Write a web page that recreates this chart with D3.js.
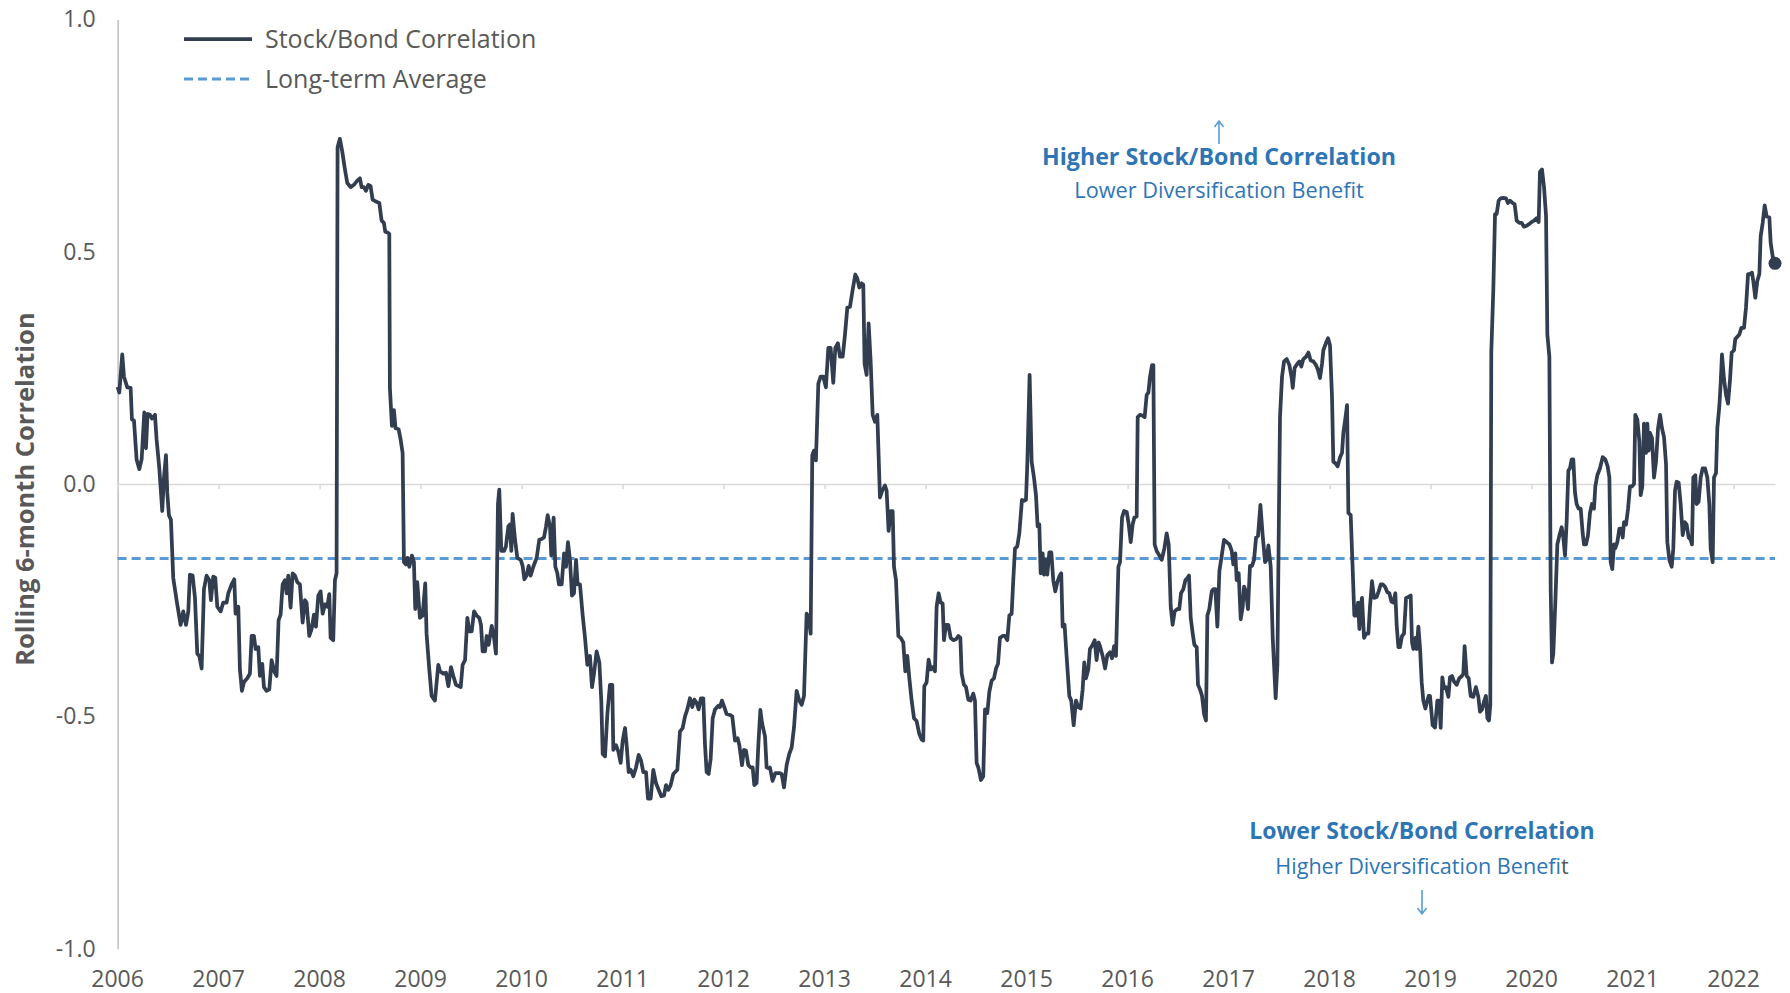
<!DOCTYPE html>
<html>
<head>
<meta charset="utf-8">
<script src="https://cdn.jsdelivr.net/npm/d3@7"></script>
<style>
  body { margin: 0; background: #fff; }
  svg text { font-family: "Open Sans", sans-serif; }
</style>
</head>
<body>
<div id="chart"></div>
<script>
// rolling 6-month stock/bond correlation, [decimal year, value]
const corr2006_09 = [
  [2006.000,0.209],[2006.017,0.197],[2006.046,0.279],[2006.063,0.231],[2006.096,0.208],[2006.129,0.207],
  [2006.142,0.139],[2006.162,0.137],[2006.188,0.053],[2006.215,0.032],[2006.238,0.053],[2006.264,0.154],
  [2006.281,0.077],[2006.297,0.151],[2006.320,0.149],[2006.340,0.141],[2006.370,0.149],[2006.386,0.096],
  [2006.413,0.034],[2006.442,-0.058],[2006.459,0.014],[2006.479,0.062],[2006.492,-0.019],[2006.508,-0.067],
  [2006.528,-0.077],[2006.551,-0.202],[2006.584,-0.250],[2006.624,-0.303],[2006.650,-0.274],[2006.677,-0.303],
  [2006.700,-0.274],[2006.716,-0.195],[2006.743,-0.197],[2006.766,-0.245],[2006.789,-0.365],[2006.809,-0.370],
  [2006.832,-0.397],[2006.855,-0.226],[2006.881,-0.197],[2006.908,-0.207],[2006.924,-0.250],[2006.947,-0.199],
  [2006.967,-0.202],[2006.987,-0.264],[2007.020,-0.274],[2007.046,-0.255],[2007.079,-0.255],[2007.096,-0.235],
  [2007.129,-0.216],[2007.155,-0.205],[2007.168,-0.279],[2007.195,-0.264],[2007.211,-0.399],[2007.231,-0.445],
  [2007.251,-0.426],[2007.284,-0.418],[2007.310,-0.408],[2007.327,-0.327],[2007.350,-0.327],[2007.366,-0.355],
  [2007.393,-0.351],[2007.409,-0.413],[2007.432,-0.387],[2007.449,-0.437],[2007.475,-0.445],[2007.502,-0.442],
  [2007.525,-0.379],[2007.551,-0.403],[2007.574,-0.413],[2007.594,-0.293],[2007.614,-0.281],[2007.634,-0.216],
  [2007.657,-0.207],[2007.673,-0.235],[2007.690,-0.197],[2007.713,-0.266],[2007.733,-0.192],[2007.756,-0.197],
  [2007.779,-0.211],[2007.805,-0.216],[2007.832,-0.298],[2007.855,-0.250],[2007.871,-0.255],[2007.898,-0.327],
  [2007.921,-0.312],[2007.944,-0.281],[2007.964,-0.307],[2007.987,-0.240],[2008.010,-0.231],[2008.030,-0.279],
  [2008.053,-0.259],[2008.076,-0.264],[2008.096,-0.237],[2008.109,-0.331],[2008.135,-0.336],[2008.152,-0.207],
  [2008.168,-0.192],[2008.178,0.725],[2008.201,0.743],[2008.224,0.716],[2008.251,0.677],[2008.274,0.648],
  [2008.307,0.639],[2008.340,0.644],[2008.373,0.653],[2008.399,0.658],[2008.416,0.639],[2008.439,0.639],
  [2008.459,0.631],[2008.482,0.644],[2008.505,0.641],[2008.525,0.612],[2008.558,0.608],[2008.591,0.605],
  [2008.614,0.567],[2008.637,0.562],[2008.650,0.543],[2008.677,0.541],[2008.690,0.538],[2008.696,0.207],
  [2008.716,0.125],[2008.736,0.159],[2008.752,0.120],[2008.782,0.118],[2008.802,0.096],[2008.822,0.067],
  [2008.835,-0.168],[2008.855,-0.173],[2008.871,-0.159],[2008.888,-0.178],[2008.914,-0.154],[2008.934,-0.168],
  [2008.947,-0.269],[2008.967,-0.211],[2008.993,-0.288],[2009.020,-0.283],[2009.046,-0.214],[2009.059,-0.322],
  [2009.086,-0.399],[2009.109,-0.456],[2009.142,-0.466],[2009.175,-0.389]
];
const corr2009_12 = [
  [2009.192,-0.403],[2009.225,-0.408],[2009.251,-0.406],[2009.275,-0.435],[2009.301,-0.394],[2009.324,-0.413],
  [2009.350,-0.432],[2009.397,-0.437],[2009.416,-0.389],[2009.440,-0.379],[2009.463,-0.288],[2009.482,-0.317],
  [2009.506,-0.317],[2009.529,-0.274],[2009.555,-0.283],[2009.581,-0.288],[2009.598,-0.303],[2009.614,-0.360],
  [2009.638,-0.360],[2009.654,-0.327],[2009.674,-0.346],[2009.704,-0.305],[2009.727,-0.331],[2009.746,-0.365],
  [2009.766,-0.043],[2009.779,-0.012],[2009.799,-0.144],[2009.826,-0.144],[2009.845,-0.134],[2009.869,-0.091],
  [2009.885,-0.087],[2009.898,-0.144],[2009.911,-0.064],[2009.935,-0.120],[2009.958,-0.159],[2009.991,-0.163],
  [2010.010,-0.176],[2010.027,-0.205],[2010.050,-0.197],[2010.070,-0.176],[2010.090,-0.197],[2010.116,-0.178],
  [2010.149,-0.159],[2010.175,-0.120],[2010.199,-0.118],[2010.222,-0.115],[2010.242,-0.091],[2010.258,-0.067],
  [2010.281,-0.091],[2010.294,-0.154],[2010.317,-0.072],[2010.334,-0.178],[2010.354,-0.192],[2010.370,-0.216],
  [2010.397,-0.216],[2010.420,-0.149],[2010.440,-0.178],[2010.459,-0.125],[2010.479,-0.163],[2010.499,-0.240],
  [2010.519,-0.235],[2010.539,-0.163],[2010.555,-0.216],[2010.578,-0.216],[2010.605,-0.283],[2010.628,-0.331],
  [2010.651,-0.389],[2010.677,-0.370],[2010.697,-0.437],[2010.717,-0.408],[2010.743,-0.360],[2010.770,-0.384],
  [2010.789,-0.466],[2010.803,-0.581],[2010.826,-0.586],[2010.849,-0.495],[2010.875,-0.432],[2010.898,-0.432],
  [2010.908,-0.572],[2010.935,-0.562],[2010.958,-0.576],[2010.981,-0.600],[2011.001,-0.552],[2011.024,-0.525],
  [2011.040,-0.562],[2011.060,-0.620],[2011.080,-0.615],[2011.106,-0.629],[2011.133,-0.610],[2011.159,-0.583],
  [2011.182,-0.595],[2011.205,-0.620],[2011.232,-0.620],[2011.251,-0.677],[2011.278,-0.677],[2011.304,-0.615],
  [2011.331,-0.644],[2011.357,-0.658],[2011.383,-0.672],[2011.410,-0.670],[2011.430,-0.648],[2011.453,-0.658],
  [2011.476,-0.648],[2011.502,-0.624],[2011.542,-0.615],[2011.568,-0.533],[2011.595,-0.525],[2011.618,-0.500],
  [2011.641,-0.485],[2011.667,-0.461],[2011.690,-0.480],[2011.710,-0.464],[2011.733,-0.471],[2011.753,-0.485],
  [2011.776,-0.461],[2011.799,-0.461],[2011.816,-0.562],[2011.832,-0.620],[2011.852,-0.624],[2011.872,-0.591],
  [2011.892,-0.504],[2011.915,-0.485],[2011.948,-0.477],[2011.964,-0.480],[2011.984,-0.466],[2012.007,-0.480],
  [2012.030,-0.495],[2012.063,-0.497],[2012.086,-0.500],[2012.113,-0.552],[2012.139,-0.547],[2012.156,-0.562],
  [2012.182,-0.605],[2012.202,-0.572],[2012.222,-0.574],[2012.245,-0.605],[2012.268,-0.610],[2012.288,-0.610],
  [2012.304,-0.648],[2012.327,-0.643],[2012.344,-0.562],[2012.364,-0.486],[2012.380,-0.514],[2012.410,-0.543],
  [2012.426,-0.610],[2012.453,-0.612]
];
const corr2012_15 = [
  [2012.459,-0.610],[2012.485,-0.639],[2012.512,-0.622],[2012.551,-0.622],[2012.575,-0.624],[2012.598,-0.653],
  [2012.624,-0.605],[2012.650,-0.581],[2012.674,-0.567],[2012.697,-0.524],[2012.723,-0.445],[2012.749,-0.466],
  [2012.773,-0.475],[2012.796,-0.456],[2012.822,-0.279],[2012.842,-0.288],[2012.862,-0.322],[2012.878,0.062],
  [2012.895,0.072],[2012.914,0.051],[2012.938,0.216],[2012.961,0.231],[2012.987,0.231],[2013.013,0.208],
  [2013.037,0.293],[2013.060,0.293],[2013.086,0.218],[2013.106,0.293],[2013.132,0.303],[2013.152,0.274],
  [2013.179,0.274],[2013.202,0.322],[2013.225,0.380],[2013.251,0.381],[2013.278,0.418],[2013.304,0.451],
  [2013.324,0.442],[2013.344,0.423],[2013.367,0.432],[2013.383,0.429],[2013.396,0.259],[2013.416,0.235],
  [2013.436,0.346],[2013.456,0.264],[2013.476,0.149],[2013.499,0.134],[2013.522,0.149],[2013.548,-0.029],
  [2013.571,-0.014],[2013.598,-0.003],[2013.614,-0.014],[2013.634,-0.101],[2013.654,-0.058],[2013.674,-0.058],
  [2013.687,-0.178],[2013.707,-0.207],[2013.730,-0.327],[2013.753,-0.331],[2013.779,-0.341],[2013.799,-0.403],
  [2013.819,-0.370],[2013.839,-0.418],[2013.862,-0.466],[2013.885,-0.504],[2013.911,-0.510],[2013.938,-0.538],
  [2013.961,-0.550],[2013.977,-0.552],[2013.987,-0.435],[2014.010,-0.427],[2014.030,-0.378],[2014.050,-0.399],
  [2014.070,-0.394],[2014.093,-0.403],[2014.109,-0.264],[2014.129,-0.235],[2014.149,-0.255],[2014.169,-0.257],
  [2014.182,-0.336],[2014.202,-0.303],[2014.225,-0.303],[2014.248,-0.331],[2014.274,-0.336],[2014.301,-0.334],
  [2014.324,-0.327],[2014.344,-0.331],[2014.357,-0.408],[2014.380,-0.432],[2014.400,-0.437],[2014.423,-0.464],
  [2014.446,-0.466],[2014.472,-0.451],[2014.489,-0.466],[2014.505,-0.600],[2014.522,-0.610],[2014.548,-0.637],
  [2014.571,-0.629],[2014.588,-0.485],[2014.611,-0.493],[2014.631,-0.447],[2014.654,-0.423],[2014.677,-0.418],
  [2014.697,-0.397],[2014.717,-0.387],[2014.736,-0.331],[2014.763,-0.327],[2014.786,-0.327],[2014.809,-0.336],
  [2014.829,-0.283],[2014.852,-0.279],[2014.868,-0.207],[2014.885,-0.139],[2014.908,-0.134],[2014.928,-0.106],
  [2014.954,-0.034],[2014.974,-0.036],[2014.994,-0.034],[2015.007,0.043],[2015.030,0.235],[2015.050,0.048],
  [2015.073,0.014],[2015.093,-0.024],[2015.109,-0.091],[2015.126,-0.087],[2015.139,-0.192],[2015.159,-0.149],
  [2015.172,-0.195],[2015.192,-0.163],[2015.205,-0.195],[2015.225,-0.147],[2015.245,-0.147],[2015.264,-0.207],
  [2015.284,-0.231],[2015.304,-0.211],[2015.324,-0.199],[2015.343,-0.192],[2015.357,-0.307],[2015.376,-0.303],
  [2015.396,-0.370],[2015.423,-0.456],[2015.442,-0.466],[2015.466,-0.519],[2015.489,-0.466],[2015.512,-0.480],
  [2015.535,-0.483],[2015.555,-0.442],[2015.571,-0.384],[2015.588,-0.418],[2015.611,-0.399],[2015.627,-0.355],
  [2015.654,-0.346],[2015.674,-0.336],[2015.693,-0.379],[2015.713,-0.341]
];
const corr2015_19 = [
  [2015.727,-0.349],[2015.753,-0.370],[2015.777,-0.397],[2015.800,-0.368],[2015.826,-0.362],[2015.846,-0.375],
  [2015.866,-0.349],[2015.885,-0.370],[2015.909,-0.178],[2015.925,-0.168],[2015.945,-0.072],[2015.965,-0.058],
  [2015.991,-0.060],[2016.008,-0.082],[2016.031,-0.125],[2016.050,-0.087],[2016.067,-0.072],[2016.090,-0.070],
  [2016.100,0.144],[2016.123,0.149],[2016.149,0.147],[2016.169,0.144],[2016.189,0.192],[2016.206,0.197],
  [2016.222,0.231],[2016.242,0.256],[2016.255,0.256],[2016.268,-0.130],[2016.288,-0.144],[2016.315,-0.154],
  [2016.338,-0.163],[2016.364,-0.139],[2016.387,-0.106],[2016.407,-0.130],[2016.427,-0.264],[2016.446,-0.303],
  [2016.466,-0.274],[2016.493,-0.269],[2016.512,-0.269],[2016.529,-0.235],[2016.552,-0.226],[2016.572,-0.207],
  [2016.592,-0.202],[2016.608,-0.197],[2016.625,-0.288],[2016.645,-0.322],[2016.661,-0.346],[2016.684,-0.351],
  [2016.697,-0.432],[2016.717,-0.442],[2016.737,-0.456],[2016.757,-0.495],[2016.776,-0.509],[2016.790,-0.283],
  [2016.809,-0.269],[2016.833,-0.231],[2016.849,-0.226],[2016.869,-0.226],[2016.889,-0.307],[2016.909,-0.187],
  [2016.932,-0.154],[2016.955,-0.120],[2016.981,-0.125],[2017.008,-0.130],[2017.031,-0.144],[2017.047,-0.173],
  [2017.067,-0.149],[2017.080,-0.207],[2017.100,-0.192],[2017.120,-0.291],[2017.140,-0.264],[2017.153,-0.221],
  [2017.173,-0.231],[2017.192,-0.269],[2017.212,-0.176],[2017.232,-0.176],[2017.252,-0.163],[2017.272,-0.115],
  [2017.291,-0.112],[2017.315,-0.045],[2017.338,-0.112],[2017.361,-0.168],[2017.377,-0.163],[2017.394,-0.132],
  [2017.417,-0.178],[2017.437,-0.331],[2017.450,-0.389],[2017.466,-0.461],[2017.483,-0.389],[2017.499,-0.053],
  [2017.509,0.144],[2017.529,0.231],[2017.549,0.264],[2017.575,0.269],[2017.602,0.256],[2017.625,0.228],
  [2017.635,0.207],[2017.654,0.250],[2017.681,0.259],[2017.701,0.264],[2017.720,0.253],[2017.740,0.269],
  [2017.767,0.274],[2017.790,0.283],[2017.813,0.266],[2017.839,0.264],[2017.866,0.256],[2017.886,0.245],
  [2017.905,0.228],[2017.925,0.259],[2017.938,0.288],[2017.965,0.304],[2017.985,0.314],[2018.004,0.298],
  [2018.024,0.187],[2018.037,0.048],[2018.057,0.045],[2018.080,0.038],[2018.104,0.058],[2018.123,0.067],
  [2018.136,0.110],[2018.156,0.141],[2018.173,0.170],[2018.186,-0.062],[2018.209,-0.067],[2018.226,-0.168],
  [2018.245,-0.283],[2018.268,-0.283],[2018.282,-0.255],[2018.295,-0.312],[2018.308,-0.264],[2018.321,-0.245],
  [2018.341,-0.331],[2018.361,-0.322],[2018.384,-0.322],[2018.400,-0.264],[2018.420,-0.209],[2018.440,-0.245],
  [2018.466,-0.243],[2018.486,-0.231],[2018.506,-0.216],[2018.526,-0.216],[2018.549,-0.221],[2018.572,-0.233],
  [2018.592,-0.235],[2018.612,-0.253],[2018.631,-0.255],[2018.651,-0.235],[2018.664,-0.303],[2018.681,-0.351],
  [2018.697,-0.351],[2018.717,-0.327],[2018.737,-0.322],[2018.757,-0.245],[2018.780,-0.243],[2018.803,-0.240],
  [2018.816,-0.341],[2018.829,-0.355],[2018.849,-0.331],[2018.862,-0.355],[2018.879,-0.307],[2018.895,-0.351],
  [2018.912,-0.427],[2018.928,-0.466],[2018.948,-0.483],[2018.968,-0.466],[2018.981,-0.456]
];
const corr2019_22 = [
  [2018.994,-0.456],[2019.020,-0.519],[2019.044,-0.524],[2019.067,-0.466],[2019.086,-0.466],[2019.100,-0.525],
  [2019.116,-0.416],[2019.133,-0.439],[2019.152,-0.437],[2019.176,-0.458],[2019.192,-0.416],[2019.212,-0.413],
  [2019.232,-0.425],[2019.258,-0.432],[2019.284,-0.418],[2019.311,-0.413],[2019.324,-0.408],[2019.337,-0.349],
  [2019.357,-0.413],[2019.377,-0.418],[2019.397,-0.456],[2019.423,-0.458],[2019.449,-0.437],[2019.473,-0.458],
  [2019.489,-0.490],[2019.509,-0.485],[2019.532,-0.466],[2019.548,-0.456],[2019.562,-0.504],[2019.578,-0.509],
  [2019.591,-0.475],[2019.601,0.283],[2019.621,0.418],[2019.638,0.581],[2019.654,0.581],[2019.674,0.610],
  [2019.694,0.615],[2019.720,0.616],[2019.746,0.615],[2019.766,0.605],[2019.786,0.610],[2019.812,0.605],
  [2019.832,0.602],[2019.852,0.567],[2019.878,0.562],[2019.902,0.562],[2019.925,0.554],[2019.951,0.556],
  [2019.978,0.560],[2020.001,0.564],[2020.024,0.567],[2020.050,0.572],[2020.070,0.564],[2020.083,0.672],
  [2020.103,0.677],[2020.123,0.639],[2020.143,0.577],[2020.156,0.322],[2020.176,0.274],[2020.189,-0.226],
  [2020.202,-0.384],[2020.215,-0.365],[2020.235,-0.255],[2020.255,-0.130],[2020.275,-0.111],[2020.298,-0.093],
  [2020.314,-0.115],[2020.331,-0.154],[2020.347,-0.082],[2020.364,0.029],[2020.380,0.034],[2020.397,0.053],
  [2020.413,0.053],[2020.430,-0.019],[2020.446,-0.043],[2020.466,-0.053],[2020.486,-0.053],[2020.506,-0.106],
  [2020.519,-0.130],[2020.539,-0.130],[2020.558,-0.111],[2020.578,-0.062],[2020.598,-0.043],[2020.618,-0.053],
  [2020.631,-0.005],[2020.651,0.019],[2020.677,0.034],[2020.704,0.058],[2020.730,0.053],[2020.753,0.038],
  [2020.770,0.014],[2020.783,-0.168],[2020.799,-0.183],[2020.816,-0.130],[2020.829,-0.138],[2020.849,-0.125],
  [2020.869,-0.096],[2020.888,-0.096],[2020.902,-0.115],[2020.915,-0.082],[2020.935,-0.087],[2020.955,-0.053],
  [2020.974,-0.005],[2020.994,-0.005],[2021.014,0.000],[2021.027,0.149],[2021.047,0.139],[2021.067,0.091],
  [2021.080,-0.024],[2021.096,-0.005],[2021.113,0.130],[2021.133,0.067],[2021.146,0.130],[2021.159,0.072],
  [2021.172,0.110],[2021.192,0.099],[2021.212,0.014],[2021.232,0.048],[2021.252,0.120],[2021.272,0.149],
  [2021.291,0.120],[2021.311,0.101],[2021.331,0.043],[2021.344,-0.125],[2021.364,-0.163],[2021.387,-0.178],
  [2021.403,-0.139],[2021.420,-0.014],[2021.436,0.005],[2021.456,0.003],[2021.476,-0.043],[2021.496,-0.110],
  [2021.516,-0.082],[2021.535,-0.087],[2021.555,-0.115],[2021.575,-0.120],[2021.588,-0.130],[2021.601,0.014],
  [2021.621,0.019],[2021.634,-0.043],[2021.654,-0.038],[2021.674,0.014],[2021.694,0.034],[2021.717,0.034],
  [2021.740,0.014],[2021.760,-0.043],[2021.773,-0.139],[2021.793,-0.168],[2021.806,0.014],[2021.826,0.024],
  [2021.839,0.120],[2021.859,0.168],[2021.872,0.216],[2021.885,0.279],[2021.905,0.226],[2021.925,0.192],
  [2021.945,0.173],[2021.965,0.226],[2021.981,0.283],[2022.004,0.288],[2022.017,0.312],[2022.037,0.317],
  [2022.057,0.322],[2022.077,0.336],[2022.103,0.336],[2022.123,0.380],[2022.143,0.452],[2022.162,0.452],
  [2022.182,0.455],[2022.195,0.437],[2022.215,0.401],[2022.235,0.437],[2022.255,0.452],[2022.268,0.533],
  [2022.288,0.562],[2022.308,0.600],[2022.327,0.576],[2022.354,0.574],[2022.367,0.519],[2022.387,0.490],
  [2022.410,0.475]
];
const longTermAvg = -0.16;
const yearTicks = d3.range(2006, 2023);
const yTicks = [-1, -0.5, 0, 0.5, 1];

const series = [].concat(corr2006_09, corr2009_12, corr2012_15, corr2015_19, corr2019_22);

const W = 1790, H = 993;
const navy = '#323e4f', blue = '#5b9bd5', annBlue = '#2e75b6', grey = '#595959';

let x = d3.scaleLinear()
          .domain([2006, series[series.length - 1][0]])
          .range([117.6, 1775]);

let y = d3.scaleLinear()
          .domain([-1, 1])
          .range([948.7, 19.4]);

let svg = d3.select('#chart')
            .append('svg')
            .attr('width', W)
            .attr('height', H);

// y axis: line + labels only (plain hyphen for negatives)
let yAxis = svg.append('g')
   .attr('transform', `translate(${x(2006)},0)`)
   .call(d3.axisLeft(y).tickValues(yTicks).tickFormat(d => d.toFixed(1)).tickSize(0).tickPadding(22));
yAxis.select('.domain').attr('stroke', '#bfbfbf').attr('stroke-width', 1.5);
yAxis.selectAll('text').attr('fill', grey).style('font-size', '23px');

// x axis line sits on zero, labels sit at bottom
let xAxis = svg.append('g')
   .attr('transform', `translate(0,${y(0)})`)
   .call(d3.axisBottom(x).tickValues(yearTicks).tickSize(5).tickSizeOuter(0).tickFormat(''));
xAxis.select('.domain').attr('stroke', '#d9d9d9').attr('stroke-width', 1.5);
xAxis.selectAll('.tick line').attr('stroke', '#d9d9d9').attr('stroke-width', 1.5);

svg.append('g')
   .selectAll('text')
   .data(yearTicks)
   .join('text')
   .attr('x', d => x(d))
   .attr('y', 987)
   .attr('text-anchor', 'middle')
   .attr('fill', grey)
   .style('font-size', '23px')
   .text(d => d);

// y axis title
svg.append('text')
   .attr('transform', `translate(27,${y(0) + 5}) rotate(-90)`)
   .attr('text-anchor', 'middle')
   .attr('dominant-baseline', 'middle')
   .attr('fill', grey)
   .style('font-size', '25.5px')
   .style('font-weight', 'bold')
   .text('Rolling 6-month Correlation');

// long-term average
svg.append('line')
   .attr('x1', x(2006)).attr('x2', x.range()[1])
   .attr('y1', y(longTermAvg)).attr('y2', y(longTermAvg))
   .attr('stroke', blue)
   .attr('stroke-width', 3)
   .attr('stroke-dasharray', '9,5');

// correlation line
let line = d3.line()
             .x(d => x(d[0]))
             .y(d => y(d[1]));

svg.append('path')
   .datum(series)
   .attr('d', line)
   .attr('fill', 'none')
   .attr('stroke', navy)
   .attr('stroke-width', 3.75)
   .attr('stroke-linejoin', 'round');

let last = series[series.length - 1];
svg.append('circle')
   .attr('cx', x(last[0]))
   .attr('cy', y(last[1]))
   .attr('r', 6.5)
   .attr('fill', navy);

// legend
let legend = svg.append('g');
legend.append('line')
      .attr('x1', 184).attr('x2', 252).attr('y1', 39).attr('y2', 39)
      .attr('stroke', navy).attr('stroke-width', 3.75);
legend.append('line')
      .attr('x1', 184).attr('x2', 252).attr('y1', 79).attr('y2', 79)
      .attr('stroke', blue).attr('stroke-width', 3).attr('stroke-dasharray', '9,5');
legend.selectAll('text')
      .data(['Stock/Bond Correlation', 'Long-term Average'])
      .join('text')
      .attr('x', 265)
      .attr('y', (d, i) => 41 + i * 40)
      .attr('dominant-baseline', 'middle')
      .attr('fill', grey)
      .style('font-size', '25px')
      .text(d => d);

// thin arrows drawn as shaft + small head
function arrow(g, cx, y1, y2) {
  let dir = y2 > y1 ? 1 : -1;
  g.append('path')
   .attr('d', `M${cx},${y1}L${cx},${y2}M${cx - 4.5},${y2 - dir * 6}L${cx},${y2}L${cx + 4.5},${y2 - dir * 6}`)
   .attr('fill', 'none')
   .attr('stroke', blue)
   .attr('stroke-width', 1.6);
}

// annotations
let topNote = svg.append('g').attr('text-anchor', 'middle');
arrow(topNote, 1219, 144, 121);
topNote.append('text').attr('x', 1219).attr('y', 159).attr('dominant-baseline', 'middle')
   .attr('fill', annBlue).style('font-size', '23.2px').style('font-weight', 'bold')
   .text('Higher Stock/Bond Correlation');
topNote.append('text').attr('x', 1219).attr('y', 192).attr('dominant-baseline', 'middle')
   .attr('fill', annBlue).style('font-size', '21.7px')
   .text('Lower Diversification Benefit');

let bottomNote = svg.append('g').attr('text-anchor', 'middle');
bottomNote.append('text').attr('x', 1422).attr('y', 833).attr('dominant-baseline', 'middle')
   .attr('fill', annBlue).style('font-size', '23px').style('font-weight', 'bold')
   .text('Lower Stock/Bond Correlation');
let hdb = bottomNote.append('text').attr('x', 1422).attr('y', 868).attr('dominant-baseline', 'middle')
   .attr('fill', annBlue).style('font-size', '21.6px');
hdb.append('tspan').text('Higher Diversification Benefi');
hdb.append('tspan').attr('fill', grey).text('t');
arrow(bottomNote, 1422, 890, 914);
</script>
</body>
</html>
